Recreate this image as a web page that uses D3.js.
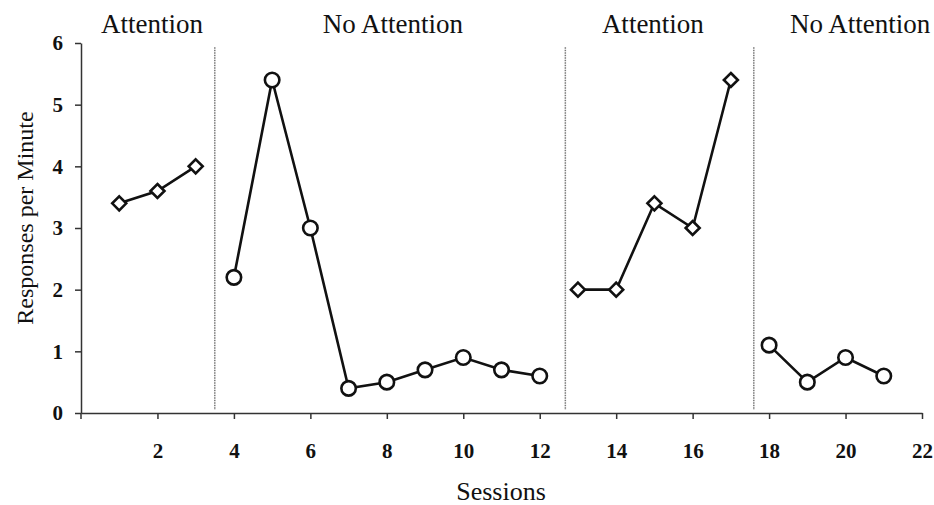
<!DOCTYPE html>
<html><head><meta charset="utf-8">
<script src="https://cdn.jsdelivr.net/npm/d3@7"></script>
<style>body{margin:0;background:#fff}svg{display:block}</style>
</head><body>
<svg id="c" width="934" height="505"></svg>
<script>
const phaseNames = ["Attention","No Attention","Attention","No Attention"];
const phaseTypes = ["diamond","circle","diamond","circle"];
const phaseSessions = [
  [1,2,3],
  [4,5,6,7,8,9,10,11,12],
  [13,14,15,16,17],
  [18,19,20,21]
];
const phaseValues = [
  [3.4,3.6,4.0],
  [2.2,5.4,3.0,0.4,0.5,0.7,0.9,0.7,0.6],
  [2.0,2.0,3.4,3.0,5.4],
  [1.1,0.5,0.9,0.6]
];
const phaseLines = [3.5,12.67,17.6];
const phaseLabelX = [1.86,8.16,14.96,20.38];
const xTicks = [2,4,6,8,10,12,14,16,18,20,22];
const yTicks = [0,1,2,3,4,5,6];

const svg = d3.select("#c");
const x = d3.scaleLinear().domain([0,22]).range([81,922]);
const y = d3.scaleLinear().domain([0,6]).range([413,43]);
const font = "'Liberation Serif','Times New Roman',serif";

const xAxis = svg.append("g").attr("transform",`translate(0,${y(0)})`)
  .call(d3.axisBottom(x).tickValues(xTicks).tickSize(6).tickPadding(24).tickSizeOuter(0));
xAxis.append("line").attr("x1",x(0)).attr("x2",x(0)).attr("y1",0).attr("y2",6).attr("stroke","#333").attr("stroke-width",1.5);
const yAxis = svg.append("g").attr("transform",`translate(${x(0)},0)`)
  .call(d3.axisLeft(y).tickValues(yTicks).tickFormat(d3.format("d")).tickSize(6).tickPadding(12).tickSizeOuter(0));
[xAxis,yAxis].forEach(g=>{
  g.select(".domain").attr("stroke","#333").attr("stroke-width",1.5);
  g.selectAll(".tick line").attr("stroke","#333").attr("stroke-width",1.5);
  g.selectAll("text").attr("font-family",font).attr("font-size",21).attr("font-weight","bold").attr("fill","#111");
});

svg.selectAll(".phase").data(phaseLines).join("line")
  .attr("x1",d=>x(d)).attr("x2",d=>x(d)).attr("y1",y(5.93)).attr("y2",y(0.05))
  .attr("stroke","#777").attr("stroke-width",1.5).attr("stroke-dasharray","1.5,1");

const line = d3.line().x(d=>x(d[0])).y(d=>y(d[1]));
phaseSessions.forEach((s,i)=>{
  const pts = s.map((v,j)=>[v,phaseValues[i][j]]);
  svg.append("path").datum(pts).attr("d",line).attr("fill","none").attr("stroke","#111").attr("stroke-width",2.6);
  const sym = phaseTypes[i]==="circle" ? d3.symbol().type(d3.symbolCircle).size(165)
                                        : d3.symbol().type(d3.symbolDiamond2).size(125);
  svg.append("g").selectAll("path").data(pts).join("path")
    .attr("transform",d=>`translate(${x(d[0])},${y(d[1])})`)
    .attr("d",sym).attr("fill","#fff").attr("stroke","#111").attr("stroke-width",2.6);
  svg.append("text").attr("x",x(phaseLabelX[i])).attr("y",33).attr("text-anchor","middle")
    .attr("font-family",font).attr("font-size",27).attr("fill","#111").text(phaseNames[i]);
});

svg.append("text").attr("x",501).attr("y",500).attr("text-anchor","middle")
  .attr("font-family",font).attr("font-size",26).attr("fill","#111").text("Sessions");
svg.append("text").attr("transform","translate(33,218) rotate(-90)").attr("text-anchor","middle")
  .attr("font-family",font).attr("font-size",24).attr("fill","#111").text("Responses per Minute");
</script>
</body></html>
